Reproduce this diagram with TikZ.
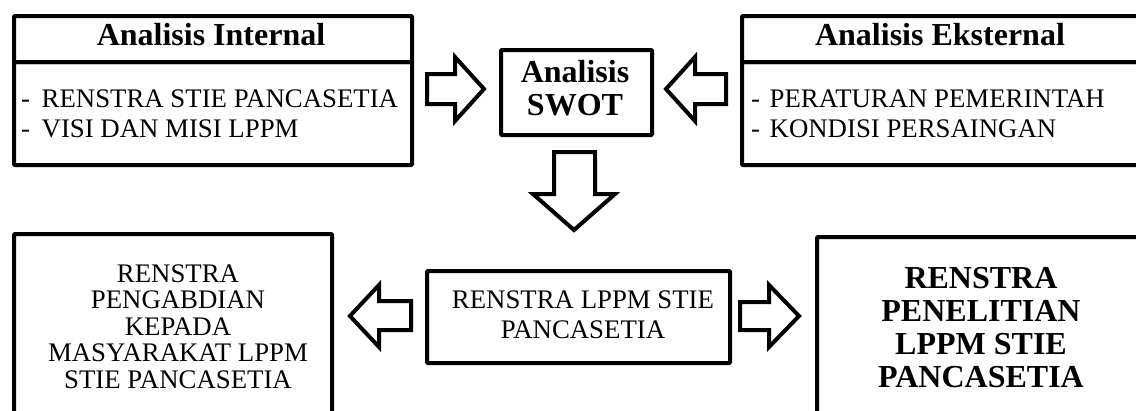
\documentclass[tikz,border=0pt]{standalone}
\usepackage{fontspec}
\setmainfont{Liberation Serif}
\begin{document}
\begin{tikzpicture}[x=1pt,y=-1pt,
  box/.style={draw, line width=4pt, rounded corners=1pt, inner sep=0pt, anchor=north west},
  blockarrow/.style={draw, line width=4pt, fill=white, line join=miter},
  ttl/.style={font=\fontsize{32}{33}\selectfont\bfseries, inner sep=0pt},
  txt/.style={font=\fontsize{26.8}{30}\selectfont, inner sep=0pt},
  txtb/.style={font=\fontsize{26.8}{26.5}\selectfont, inner sep=0pt},
]
\useasboundingbox (0,0) rectangle (1136,410);
\clip (0,0) rectangle (1136,410);

% boxes
\node[box, minimum width=398pt, minimum height=46pt] (inttitle) at (12,14) {};
\node[box, minimum width=398pt, minimum height=103pt] (intbody) at (12,60) {};
\node[box, minimum width=151pt, minimum height=85pt] (swot) at (499,48) {};
\node[box, minimum width=420pt, minimum height=46pt] (exttitle) at (740,14) {};
\node[box, minimum width=420pt, minimum height=103pt] (extbody) at (740,60) {};
\node[box, minimum width=318pt, minimum height=200pt] (pengabdian) at (12,232) {};
\node[box, minimum width=303pt, minimum height=92pt] (lppm) at (425,269) {};
\node[box, minimum width=340pt, minimum height=200pt] (penelitian) at (815,235) {};

% texts (base anchor of a multi-line node = baseline of its last line)
\node[ttl, anchor=base] (intt) at (211,45) {Analisis Internal};
\node[txt, anchor=base west] (int1) at (21,107) {\makebox[20.5pt][l]{-}RENSTRA STIE PANCASETIA};
\node[txt, anchor=base west] (int2) at (21,137) {\makebox[20.5pt][l]{-}VISI DAN MISI LPPM};
\node[ttl, anchor=base, align=center] (swott) at (575,115) {Analisis\\SWOT};
\node[ttl, anchor=base] (extt) at (940,45) {Analisis Eksternal};
\node[txt, anchor=base west] (ext1) at (751,107) {\makebox[18.5pt][l]{-}PERATURAN PEMERINTAH};
\node[txt, anchor=base west] (ext2) at (751,137) {\makebox[18.5pt][l]{-}KONDISI PERSAINGAN};
\node[txtb, anchor=base, align=center] (pengt) at (178,388) {RENSTRA\\PENGABDIAN\\KEPADA\\MASYARAKAT LPPM\\STIE PANCASETIA};
\node[txt, anchor=base, align=center] (lppmt) at (583,338) {RENSTRA LPPM STIE\\PANCASETIA};
\node[ttl, anchor=base, align=center] (penet) at (981,387) {RENSTRA\\PENELITIAN\\LPPM STIE\\PANCASETIA};

% block arrows
\draw[blockarrow] (427,74) -- (455,74) -- (455,57) -- (484,89) -- (455,121) -- (455,104) -- (427,104) -- cycle;
\draw[blockarrow] (726,74) -- (695,74) -- (695,57) -- (666,89) -- (695,121) -- (695,104) -- (726,104) -- cycle;
\draw[blockarrow] (554,152) -- (595,152) -- (595,194) -- (615,194) -- (574,230) -- (533,194) -- (554,194) -- cycle;
\draw[blockarrow] (411,301) -- (379,301) -- (379,285) -- (350,316) -- (379,347) -- (379,330) -- (411,330) -- cycle;
\draw[blockarrow] (740,302) -- (769,302) -- (769,285) -- (799,316) -- (769,347) -- (769,330) -- (740,330) -- cycle;
\end{tikzpicture}
\end{document}
